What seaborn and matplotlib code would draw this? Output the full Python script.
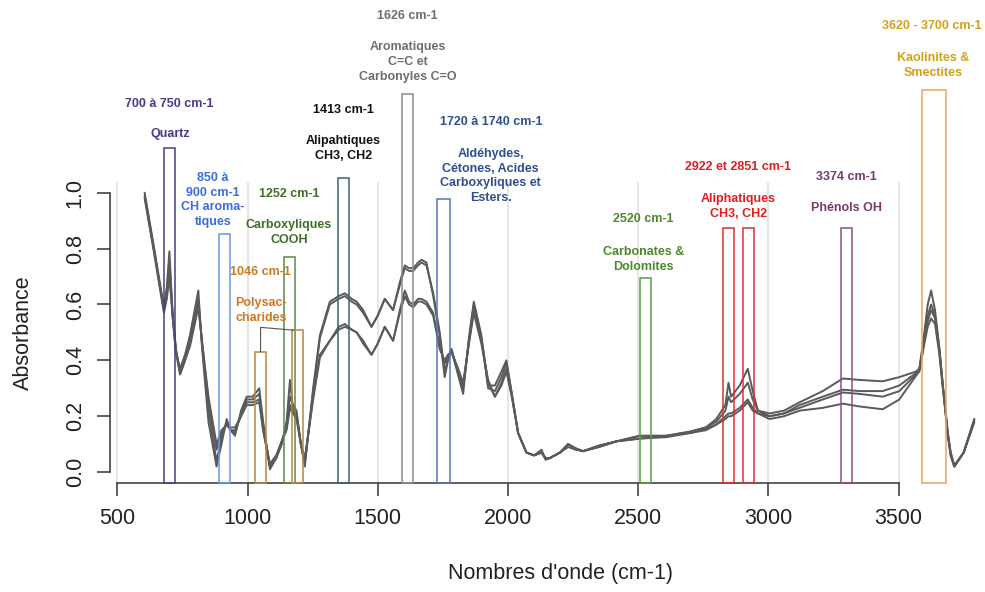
import matplotlib
matplotlib.use("Agg")
import matplotlib.pyplot as plt
from matplotlib.patches import Rectangle
import numpy as np
import pandas as pd
import seaborn as sns

wavenumber = [605, 640, 679, 690, 700, 712, 725, 741, 760, 779, 795, 811, 825, 850, 881,
              900, 920, 935, 952, 975, 997, 1020, 1045, 1060, 1086, 1110, 1131, 1150, 1163, 1175,
              1188, 1205, 1220, 1252, 1278, 1316, 1350, 1374, 1400, 1419, 1444, 1476, 1500, 1527, 1559,
              1585, 1604, 1620, 1636, 1655, 1668, 1687, 1713, 1738, 1757, 1770, 1783, 1805, 1828, 1850,
              1869, 1898, 1924, 1950, 1975, 1994, 2015, 2039, 2071, 2100, 2129, 2145, 2160, 2200, 2231,
              2260, 2288, 2350, 2416, 2506, 2608, 2700, 2760, 2800, 2835, 2847, 2857, 2890, 2921, 2940,
              2960, 3005, 3060, 3120, 3209, 3286, 3350, 3439, 3503, 3567, 3580, 3599, 3612, 3625, 3640,
              3657, 3670, 3689, 3700, 3714, 3750, 3791]

# Absorbance of the four soil samples
sample_1 = [1.00, 0.81, 0.59, 0.66, 0.79, 0.56, 0.43, 0.37, 0.42, 0.49, 0.57, 0.65, 0.45, 0.18, 0.02,
            0.10, 0.19, 0.15, 0.13, 0.22, 0.27, 0.27, 0.30, 0.18, 0.01, 0.05, 0.10, 0.18, 0.33, 0.22,
            0.21, 0.10, 0.02, 0.30, 0.49, 0.61, 0.63, 0.64, 0.62, 0.61, 0.58, 0.52, 0.56, 0.62, 0.58,
            0.68, 0.74, 0.73, 0.73, 0.75, 0.76, 0.75, 0.63, 0.49, 0.34, 0.40, 0.44, 0.36, 0.28, 0.48,
            0.61, 0.49, 0.31, 0.31, 0.36, 0.40, 0.28, 0.14, 0.07, 0.06, 0.08, 0.045, 0.05, 0.07, 0.10,
            0.085, 0.075, 0.095, 0.11, 0.13, 0.13, 0.145, 0.16, 0.19, 0.24, 0.32, 0.27, 0.31, 0.37, 0.29,
            0.22, 0.21, 0.22, 0.25, 0.29, 0.335, 0.33, 0.325, 0.34, 0.36, 0.37, 0.50, 0.60, 0.65, 0.58,
            0.44, 0.31, 0.13, 0.06, 0.02, 0.07, 0.19]
sample_2 = [0.99, 0.80, 0.58, 0.65, 0.76, 0.58, 0.44, 0.36, 0.41, 0.48, 0.55, 0.62, 0.46, 0.22, 0.04,
            0.12, 0.18, 0.15, 0.14, 0.21, 0.26, 0.26, 0.28, 0.17, 0.02, 0.05, 0.10, 0.17, 0.27, 0.24,
            0.22, 0.10, 0.03, 0.29, 0.48, 0.60, 0.62, 0.63, 0.61, 0.60, 0.57, 0.52, 0.56, 0.62, 0.58,
            0.67, 0.73, 0.72, 0.72, 0.74, 0.75, 0.74, 0.64, 0.50, 0.36, 0.41, 0.44, 0.37, 0.30, 0.47,
            0.60, 0.48, 0.30, 0.29, 0.34, 0.39, 0.28, 0.14, 0.07, 0.06, 0.07, 0.045, 0.05, 0.07, 0.10,
            0.085, 0.075, 0.095, 0.11, 0.13, 0.13, 0.145, 0.16, 0.18, 0.22, 0.27, 0.25, 0.28, 0.32, 0.26,
            0.22, 0.20, 0.21, 0.24, 0.27, 0.295, 0.29, 0.29, 0.31, 0.355, 0.37, 0.48, 0.56, 0.60, 0.56,
            0.44, 0.31, 0.14, 0.06, 0.02, 0.07, 0.19]
sample_3 = [0.985, 0.80, 0.58, 0.63, 0.72, 0.57, 0.44, 0.35, 0.40, 0.46, 0.53, 0.60, 0.47, 0.25, 0.08,
            0.14, 0.17, 0.15, 0.15, 0.20, 0.25, 0.25, 0.26, 0.15, 0.02, 0.05, 0.11, 0.16, 0.24, 0.22,
            0.20, 0.10, 0.04, 0.27, 0.42, 0.47, 0.52, 0.53, 0.51, 0.50, 0.47, 0.42, 0.46, 0.52, 0.47,
            0.58, 0.65, 0.61, 0.60, 0.62, 0.62, 0.61, 0.57, 0.45, 0.39, 0.42, 0.43, 0.37, 0.31, 0.46,
            0.58, 0.47, 0.32, 0.27, 0.32, 0.37, 0.27, 0.14, 0.07, 0.06, 0.07, 0.05, 0.05, 0.07, 0.10,
            0.085, 0.075, 0.09, 0.11, 0.12, 0.13, 0.14, 0.155, 0.17, 0.20, 0.21, 0.21, 0.23, 0.26, 0.23,
            0.21, 0.20, 0.21, 0.23, 0.26, 0.285, 0.28, 0.27, 0.29, 0.35, 0.365, 0.47, 0.54, 0.58, 0.55,
            0.43, 0.31, 0.14, 0.07, 0.02, 0.07, 0.18]
sample_4 = [0.98, 0.79, 0.57, 0.62, 0.70, 0.56, 0.43, 0.35, 0.40, 0.45, 0.52, 0.59, 0.47, 0.27, 0.10,
            0.15, 0.17, 0.16, 0.16, 0.20, 0.24, 0.24, 0.25, 0.15, 0.03, 0.06, 0.11, 0.15, 0.23, 0.21,
            0.19, 0.10, 0.05, 0.26, 0.41, 0.47, 0.51, 0.52, 0.51, 0.50, 0.46, 0.42, 0.46, 0.52, 0.47,
            0.57, 0.63, 0.60, 0.59, 0.61, 0.61, 0.60, 0.56, 0.44, 0.40, 0.42, 0.43, 0.38, 0.32, 0.46,
            0.57, 0.46, 0.33, 0.27, 0.31, 0.36, 0.27, 0.14, 0.07, 0.06, 0.07, 0.05, 0.05, 0.07, 0.09,
            0.08, 0.075, 0.09, 0.11, 0.12, 0.125, 0.14, 0.15, 0.17, 0.19, 0.20, 0.20, 0.22, 0.25, 0.22,
            0.21, 0.19, 0.20, 0.22, 0.23, 0.245, 0.235, 0.225, 0.26, 0.345, 0.36, 0.46, 0.52, 0.55, 0.53,
            0.42, 0.30, 0.14, 0.07, 0.025, 0.07, 0.18]

# Absorption bands: lower / upper wavenumber, box height, edge colour
band_low = [679, 891, 1029, 1139, 1170, 1346, 1594, 1729, 2507, 2827, 2902, 3279, 3590]
band_high = [722, 933, 1071, 1182, 1214, 1390, 1637, 1779, 2551, 2869, 2944, 3323, 3684]
band_top = [1.16, 0.852, 0.431, 0.770, 0.508, 1.054, 1.352, 0.976, 0.695, 0.875, 0.875, 0.875, 1.368]
band_color = ["#4a3f7e", "#6a97ea", "#b98546", "#5a8a48", "#b98546", "#3f6363", "#8c8c8c",
              "#5677b4", "#5e9a46", "#e03030", "#e03030", "#8e4f80", "#f2a25a"]

# Band annotations: text, wavenumber, absorbance, colour
label_text = ["700 à 750 cm-1", "Quartz",
              "850 à\n900 cm-1\nCH aroma-\ntiques",
              "1252 cm-1", "Carboxyliques\nCOOH",
              "1046 cm-1", "Polysac-\ncharides",
              "1413 cm-1", "Alipahtiques\nCH3, CH2",
              "1626 cm-1", "Aromatiques\nC=C et\nCarbonyles C=O",
              "1720 à 1740 cm-1", "Aldéhydes,\nCétones, Acides\nCarboxyliques et\nEsters.",
              "2520 cm-1", "Carbonates &\nDolomites",
              "2922 et 2851 cm-1", "Aliphatiques\nCH3, CH2",
              "3374 cm-1", "Phénols OH",
              "3620 - 3700 cm-1", "Kaolinites &\nSmectites"]
label_x = [699, 702, 867, 1159, 1159, 1051, 1051, 1368, 1367, 1614, 1615, 1934, 1934,
           2520, 2520, 2882, 2885, 3298, 3301, 3627, 3634]
label_y = [1.317, 1.210, 0.974, 0.994, 0.858, 0.717, 0.578, 1.296, 1.157, 1.634, 1.467,
           1.252, 1.060, 0.905, 0.762, 1.093, 0.951, 1.057, 0.946, 1.597, 1.454]
label_color = ["#4b3a8c", "#4b3a8c", "#3d6be0", "#3f6e2a", "#3f6e2a", "#cc7a22", "#cc7a22",
               "#111111", "#111111", "#6e6e6e", "#6e6e6e", "#2f4f8f", "#2f4f8f",
               "#4a8a2a", "#4a8a2a", "#e01e1e", "#e01e1e", "#7a3a6e", "#7a3a6e",
               "#d4a019", "#d4a019"]

x_ticks = [500, 1000, 1500, 2000, 2500, 3000, 3500]
y_ticks = [0.0, 0.2, 0.4, 0.6, 0.8, 1.0]

sns.set_style("white")
plt.rcParams["font.family"] = ["Liberation Sans", "DejaVu Sans"]

fig = plt.figure(figsize=(9.85, 5.92), dpi=100)
ax = fig.add_axes([0.1117, 0.1836, 0.9137, 0.5098])
ax.set_xlim(472, 3928)
ax.set_ylim(-0.04, 1.04)

for xt in x_ticks:
    ax.axvline(xt, color="#e2e2e2", lw=1.2, zorder=0)

spectra = pd.DataFrame({
    "wavenumber": wavenumber * 4,
    "absorbance": sample_1 + sample_2 + sample_3 + sample_4,
    "sample": np.repeat(["1", "2", "3", "4"], len(wavenumber)),
})
sns.lineplot(data=spectra, x="wavenumber", y="absorbance", units="sample",
             estimator=None, color="#5a5a5a", lw=1.4, sort=False, ax=ax, zorder=2)

for lo, hi, top, col in zip(band_low, band_high, band_top, band_color):
    ax.add_patch(Rectangle((lo, -0.04), hi - lo, top + 0.04, fill=False,
                           edgecolor=col, lw=1.1, clip_on=False, zorder=3))

# bracket linking the two polysaccharide bands
poly_left = (band_low[2] + band_high[2]) / 2
ax.plot([poly_left, poly_left, band_low[4] + 8], [band_top[2], 0.518, band_top[4]],
        color="#555555", lw=0.8, clip_on=False, zorder=3)

for txt, x, y, col in zip(label_text, label_x, label_y, label_color):
    ax.text(x, y, txt, color=col, fontsize=9, fontweight="bold", ha="center",
            va="center", linespacing=1.3, clip_on=False, zorder=4)

for side in ["top", "right"]:
    ax.spines[side].set_visible(False)
ax.spines["left"].set_bounds(0, 1)
ax.spines["bottom"].set_bounds(500, 3500)
for side in ["left", "bottom"]:
    ax.spines[side].set_color("#333333")
    ax.spines[side].set_linewidth(1.1)

ax.set_xticks(x_ticks)
ax.set_yticks(y_ticks)
ax.set_xticklabels([str(t) for t in x_ticks])
ax.set_yticklabels([f"{t:.1f}" for t in y_ticks], rotation=90, va="center")
ax.tick_params(axis="both", direction="out", length=9.5, width=1.1, color="#333333",
               labelsize=15.5, labelcolor="#222222", bottom=True, left=True)
ax.tick_params(axis="x", pad=8)
ax.tick_params(axis="y", pad=8)

ax.set_xlabel("Nombres d'onde (cm-1)", fontsize=15.5, color="#222222", labelpad=25)
ax.set_ylabel("Absorbance", fontsize=15.5, color="#222222", labelpad=22)

fig.savefig("out.png", dpi=100)
